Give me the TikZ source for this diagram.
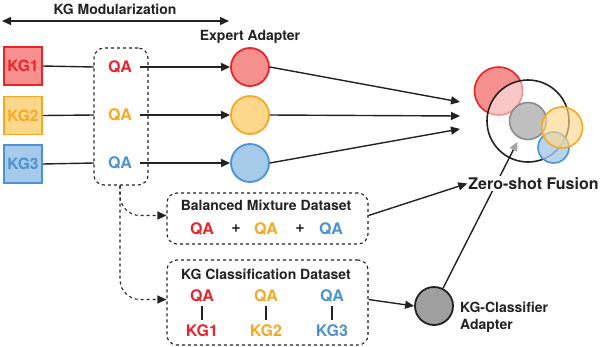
\documentclass[tikz,border=0pt]{standalone}
\usepackage{fontspec}
\setmainfont{TeX Gyre Heros}
\usetikzlibrary{arrows.meta}
\definecolor{cred}{HTML}{E8252B}
\definecolor{credf}{HTML}{F5908F}
\definecolor{corg}{HTML}{F6A823}
\definecolor{corgf}{HTML}{FDD78B}
\definecolor{cblu}{HTML}{4A92D0}
\definecolor{cbluf}{HTML}{A6CAE9}
\definecolor{txt}{HTML}{222222}
\begin{document}
\begin{tikzpicture}[x=1pt,y=-1pt,
  lbl/.style={font=\fontsize{14}{17}\bfseries, text=txt, inner sep=0pt},
  kgbox/.style={draw, line width=1.6pt, minimum width=38pt, minimum height=38pt, inner sep=0pt, font=\fontsize{15.5}{15.5}\bfseries},
  qa/.style={font=\fontsize{16}{16}\bfseries, inner sep=0pt},
  expert/.style={circle, draw, line width=1.8pt, minimum size=38pt, inner sep=0pt},
  conn/.style={line width=1.4pt, draw=txt},
  tip/.style={-{Triangle[length=9pt,width=8pt]}},
  arr/.style={conn, tip},
  dashbox/.style={draw=txt, dashed, line width=1.1pt, rounded corners=10pt, inner sep=0pt},
  bar/.style={line width=1.8pt, draw=txt}]
\useasboundingbox (0,0) rectangle (600,346);

% title
\node[lbl] (title) at (115,9) {KG Modularization};
\coordinate (ml) at (2,21);
\coordinate (mr) at (229,21);
\draw[conn, {Triangle[length=9pt,width=8pt]}-{Triangle[length=9pt,width=8pt]}] (ml) -- (mr);

% KG boxes
\node[kgbox, draw=cred, fill=credf, text=cred] (kg1) at (23,66) {KG1};
\node[kgbox, draw=corg, fill=corgf, text=corg] (kg2) at (23,115.5) {KG2};
\node[kgbox, draw=cblu, fill=cbluf, text=cblu] (kg3) at (23,164) {KG3};

% QA nodes
\node[qa, text=cred] (qa1) at (120,67) {QA};
\node[qa, text=corg] (qa2) at (120,115) {QA};
\node[qa, text=cblu] (qa3) at (120,163) {QA};

% expert adapters
\node[lbl] (explbl) at (250,37) {Expert Adapter};
\node[expert, draw=cred, fill=credf] (e1) at (250,67) {};
\node[expert, draw=corg, fill=corgf] (e2) at (250,115) {};
\node[expert, draw=cblu, fill=cbluf] (e3) at (250,163) {};

\draw[conn] (kg1.east) -- ([xshift=-14pt]qa1.west);
\draw[conn] (kg2.east) -- ([xshift=-14pt]qa2.west);
\draw[conn] (kg3.east) -- ([xshift=-14pt]qa3.west);
\draw[arr] ([xshift=8pt]qa1.east) -- (e1.west);
\draw[arr] ([xshift=8pt]qa2.east) -- (e2.west);
\draw[arr] ([xshift=8pt]qa3.east) -- (e3.west);

% dashed QA box
\node[dashbox, minimum width=54pt, minimum height=137pt] (qabox) at (121,116.5) {};

% fusion
\node[circle, draw=cred, fill=credf, line width=1.6pt, minimum size=48pt, inner sep=0pt] (fr) at (498.5,91) {};
\node[circle, draw=txt, fill=white, fill opacity=0.5, line width=1.6pt, minimum size=82pt, inner sep=0pt] (fbig) at (528,121) {};
\node[circle, draw=gray!90, fill=gray!50, line width=1.6pt, minimum size=37pt, inner sep=0pt] (fg) at (528,121) {};
\node[circle, draw=cblu, fill=cbluf, fill opacity=0.8, line width=1.6pt, minimum size=31pt, inner sep=0pt] (fb) at (553.5,147.5) {};
\node[circle, draw=corg, fill=corgf, fill opacity=0.65, line width=1.6pt, minimum size=41pt, inner sep=0pt] (fo) at (562,127.5) {};

\coordinate (t1) at (460,102);
\coordinate (t2) at (460,116);
\coordinate (t3) at (460,129);
\draw[arr] (e1.east) -- (t1);
\draw[arr] (e2.east) -- (t2);
\draw[arr] (e3.east) -- (t3);

% datasets
\node[dashbox, minimum width=201pt, minimum height=51pt] (bal) at (267.5,218.5) {};
\node[lbl] (baltitle) at (266,205) {Balanced Mixture Dataset};
\node[qa, text=cred] (bq1) at (202,229) {QA};
\node[qa, text=txt] (bp1) at (236,229) {+};
\node[qa, text=corg] (bq2) at (266,229) {QA};
\node[qa, text=txt] (bp2) at (300,229) {+};
\node[qa, text=cblu] (bq3) at (331,229) {QA};

\node[dashbox, minimum width=201pt, minimum height=85pt] (kgc) at (267.5,302.5) {};
\node[lbl] (kgctitle) at (266,274) {KG Classification Dataset};
\node[qa, text=cred] (cq1) at (202,296) {QA};
\node[qa, text=corg] (cq2) at (266,296) {QA};
\node[qa, text=cblu] (cq3) at (332,296) {QA};
\node[qa, text=cred] (ck1) at (202,331) {KG1};
\node[qa, text=corg] (ck2) at (266,331) {KG2};
\node[qa, text=cblu] (ck3) at (332,331) {KG3};
\draw[bar, shorten <=4pt, shorten >=5pt] (cq1.south) -- (ck1.north);
\draw[bar, shorten <=4pt, shorten >=5pt] (cq2.south) -- (ck2.north);
\draw[bar, shorten <=4pt, shorten >=5pt] (cq3.south) -- (ck3.north);

% dashed branches
\draw[conn, dashed, line width=1.1pt, tip, rounded corners=20pt] ([xshift=-1pt]qabox.south) |- ([yshift=3pt]bal.west);
\draw[conn, dashed, line width=1.1pt, tip, rounded corners=20pt] ([xshift=-1pt]qabox.south) |- ([yshift=3pt]kgc.west);

% classifier
\node[circle, draw=txt, fill=gray!75, line width=1.8pt, minimum size=38pt, inner sep=0pt] (cls) at (434,306) {};
\node[lbl, anchor=north west, align=left] (clslbl) at (460,302) {KG-Classifier\\Adapter};
\draw[arr] ([yshift=3pt]kgc.east) -- (cls.west);

\draw[conn, -{Triangle[length=9pt,width=8pt,color=gray!70]}, shorten >=4pt] (cls) -- (fg);

\node[font=\fontsize{16}{16}\bfseries, text=txt, fill=white, inner sep=1pt] (zs) at (533.5,183.5) {Zero-shot Fusion};
\draw[arr] ([yshift=3pt]bal.east) -- (zs.west);
\end{tikzpicture}
\end{document}
